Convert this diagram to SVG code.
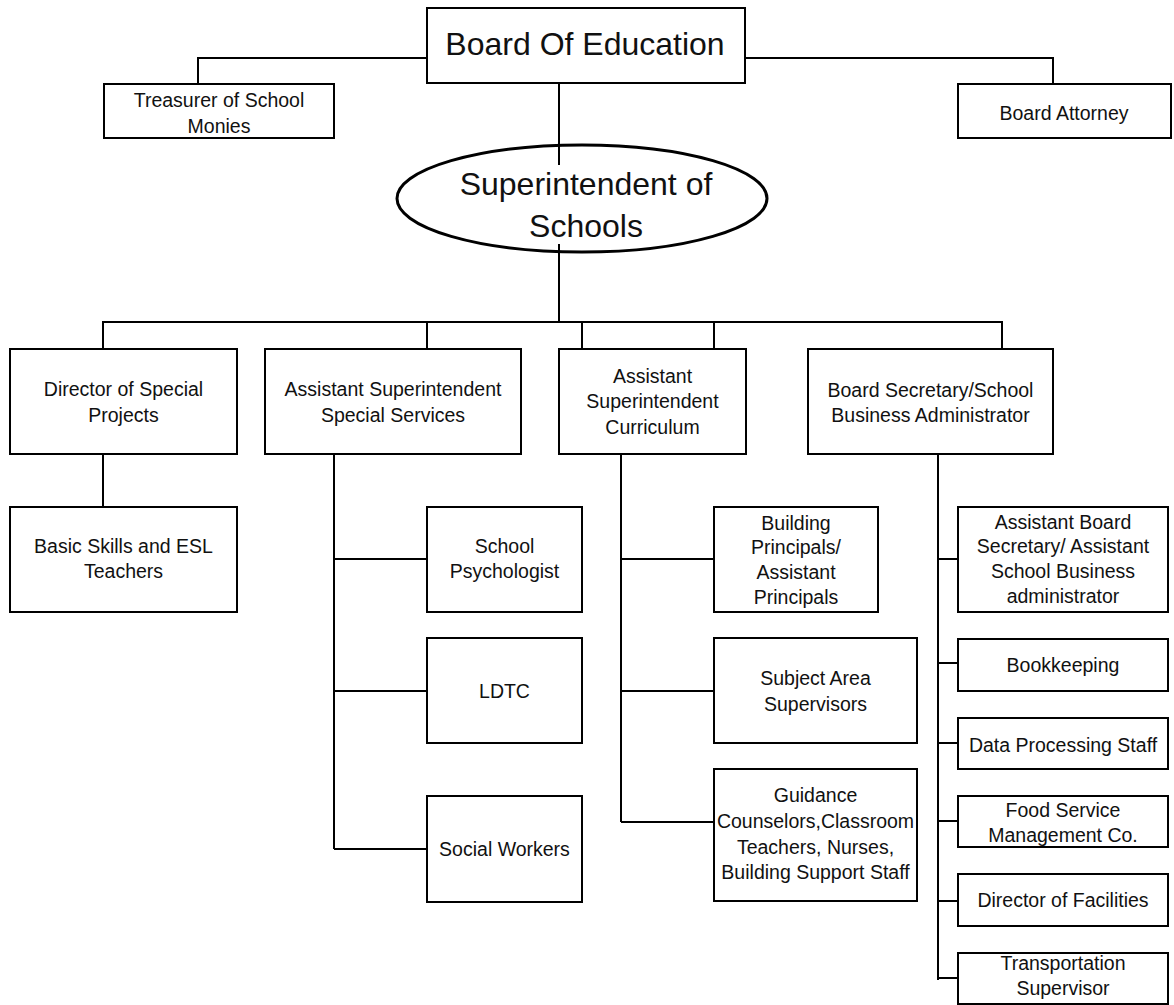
<svg xmlns="http://www.w3.org/2000/svg" width="1174" height="1005" viewBox="0 0 1174 1005">
<style>
.box{fill:#fff;stroke:#000;stroke-width:2}
.ell{fill:#fff;stroke:#000;stroke-width:3}
.t{font-family:"Liberation Sans",Arial,sans-serif;font-size:19.5px;text-anchor:middle;fill:#111}
.big{font-size:32px}
.c{fill:none;stroke:#000;stroke-width:2}
</style>
<rect width="1174" height="1005" fill="#fff"/>
<g id="board-of-education"><rect class="box" x="427" y="8" width="318" height="75"/><text class="t big" x="585" y="55">Board Of Education</text></g>
<g id="treasurer"><rect class="box" x="104" y="84" width="230" height="54"/><text class="t" x="219" y="107">Treasurer of School</text><text class="t" x="219" y="133">Monies</text></g>
<g id="board-attorney"><rect class="box" x="958" y="84" width="213" height="54"/><text class="t" x="1064" y="120">Board Attorney</text></g>
<g id="superintendent"><ellipse class="ell" cx="582" cy="198.5" rx="185" ry="53.5"/><text class="t big" x="586" y="195">Superintendent of</text><text class="t big" x="586" y="237">Schools</text></g>
<g id="director-special-projects"><rect class="box" x="10" y="349" width="227" height="105"/><text class="t" x="123.5" y="396">Director of Special</text><text class="t" x="123.5" y="422">Projects</text></g>
<g id="asst-supt-special-services"><rect class="box" x="265" y="349" width="256" height="105"/><text class="t" x="393" y="396">Assistant Superintendent</text><text class="t" x="393" y="422">Special Services</text></g>
<g id="asst-supt-curriculum"><rect class="box" x="559" y="349" width="187" height="105"/><text class="t" x="652.5" y="383">Assistant</text><text class="t" x="652.5" y="408">Superintendent</text><text class="t" x="652.5" y="434">Curriculum</text></g>
<g id="board-secretary"><rect class="box" x="808" y="349" width="245" height="105"/><text class="t" x="930.5" y="397">Board Secretary/School</text><text class="t" x="930.5" y="422">Business Administrator</text></g>
<g id="basic-skills"><rect class="box" x="10" y="507" width="227" height="105"/><text class="t" x="123.5" y="553">Basic Skills and ESL</text><text class="t" x="123.5" y="578">Teachers</text></g>
<g id="school-psychologist"><rect class="box" x="427" y="507" width="155" height="105"/><text class="t" x="504.5" y="553">School</text><text class="t" x="504.5" y="578">Psychologist</text></g>
<g id="ldtc"><rect class="box" x="427" y="638" width="155" height="105"/><text class="t" x="504.5" y="698">LDTC</text></g>
<g id="social-workers"><rect class="box" x="427" y="796" width="155" height="106"/><text class="t" x="504.5" y="856">Social Workers</text></g>
<g id="building-principals"><rect class="box" x="714" y="507" width="164" height="105"/><text class="t" x="796" y="530">Building</text><text class="t" x="796" y="554">Principals/</text><text class="t" x="796" y="579">Assistant</text><text class="t" x="796" y="604">Principals</text></g>
<g id="subject-area"><rect class="box" x="714" y="638" width="203" height="105"/><text class="t" x="815.5" y="685">Subject Area</text><text class="t" x="815.5" y="711">Supervisors</text></g>
<g id="guidance"><rect class="box" x="714" y="769" width="203" height="132"/><text class="t" x="815.5" y="802">Guidance</text><text class="t" x="815.5" y="828">Counselors,Classroom</text><text class="t" x="815.5" y="854">Teachers, Nurses,</text><text class="t" x="815.5" y="879">Building Support Staff</text></g>
<g id="asst-board-secretary"><rect class="box" x="958" y="507" width="210" height="105"/><text class="t" x="1063" y="529">Assistant Board</text><text class="t" x="1063" y="553">Secretary/ Assistant</text><text class="t" x="1063" y="578">School Business</text><text class="t" x="1063" y="603">administrator</text></g>
<g id="bookkeeping"><rect class="box" x="958" y="639" width="210" height="52"/><text class="t" x="1063" y="672">Bookkeeping</text></g>
<g id="data-processing"><rect class="box" x="958" y="718" width="210" height="51"/><text class="t" x="1063" y="752">Data Processing Staff</text></g>
<g id="food-service"><rect class="box" x="958" y="796" width="210" height="51"/><text class="t" x="1063" y="817">Food Service</text><text class="t" x="1063" y="842">Management Co.</text></g>
<g id="director-facilities"><rect class="box" x="958" y="874" width="210" height="52"/><text class="t" x="1063" y="907">Director of Facilities</text></g>
<g id="transportation"><rect class="box" x="958" y="953" width="210" height="51"/><text class="t" x="1063" y="970">Transportation</text><text class="t" x="1063" y="995">Supervisor</text></g>
<g id="connectors">
<path class="c" d="M427 58H198V84M745 58H1053V84"/>
<path class="c" d="M559 83V165M559 244V322"/>
<path class="c" d="M103 322H1002M103 321V349M427 321V349M582 321V349M714 321V349M1002 321V349"/>
<path class="c" d="M103 454V507"/>
<path class="c" d="M334 454V849M334 559H427M334 691H427M334 849H427"/>
<path class="c" d="M621 454V822M621 559H714M621 691H714M621 822H714"/>
<path class="c" d="M938 454V980M938 559H958M938 663H958M938 743H958M938 821H958M938 901H958M938 978H958"/>
</g>
</svg>
